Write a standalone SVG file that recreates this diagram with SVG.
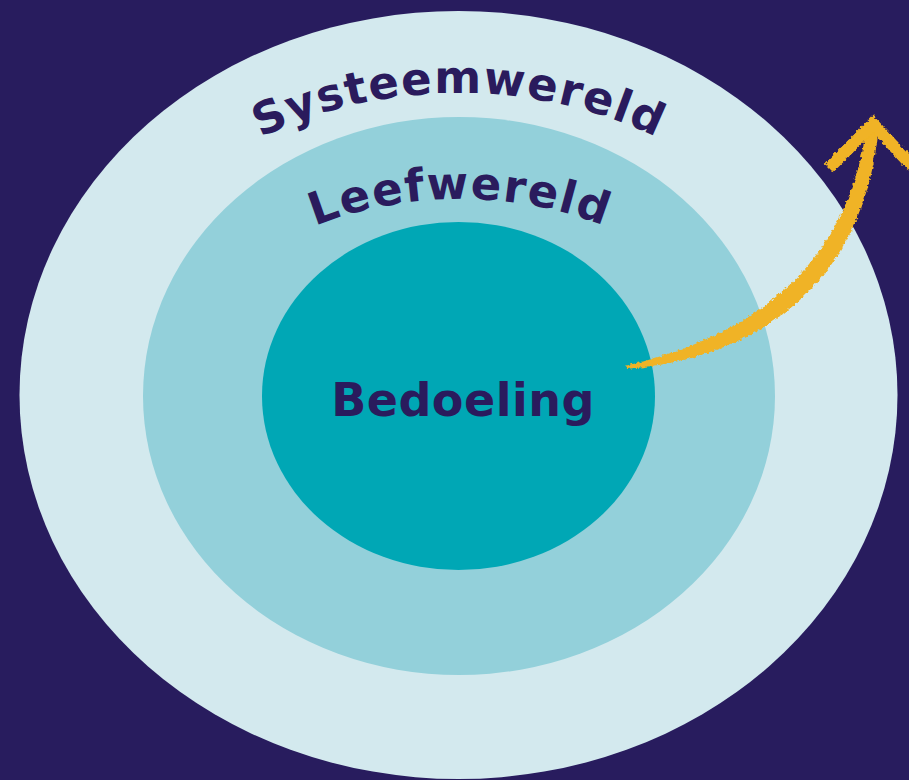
<svg xmlns="http://www.w3.org/2000/svg" xmlns:xlink="http://www.w3.org/1999/xlink" width="909" height="780" viewBox="0 0 909 780">
  <style>
    .lbl { font-family: "DejaVu Sans", "Liberation Sans", sans-serif; font-weight: bold; fill: #2a1b5d; }
    .arc { font-size: 45px; letter-spacing: 1.5px; }
    .brush { fill: #f0b325; }
    .brushline { fill: none; stroke: #f0b325; stroke-width: 12; stroke-linejoin: miter; stroke-linecap: butt; }
  </style>
  <defs>
    <path id="arcSys" d="M 79,397 A 380,304 0 0 1 839,397"/>
    <path id="arcLeef" d="M 172,398 A 288,199 0 0 1 748,398"/>
    <filter id="rough" x="-10%" y="-10%" width="120%" height="120%">
      <feTurbulence type="fractalNoise" baseFrequency="0.3" numOctaves="2" seed="4" result="n"/>
      <feDisplacementMap in="SourceGraphic" in2="n" scale="5" xChannelSelector="R" yChannelSelector="G"/>
    </filter>
  </defs>
  <rect x="0" y="0" width="909" height="780" fill="#281c5e"/>
  <g id="systeemwereld">
    <ellipse cx="458.5" cy="395" rx="439" ry="384" fill="#d3e9ee"/>
    <text class="lbl arc" text-anchor="middle"><textPath xlink:href="#arcSys" href="#arcSys" startOffset="50%">Systeemwereld</textPath></text>
  </g>
  <g id="leefwereld">
    <ellipse cx="459" cy="396" rx="316" ry="279" fill="#93d0da"/>
    <text class="lbl arc" text-anchor="middle"><textPath xlink:href="#arcLeef" href="#arcLeef" startOffset="50%">Leefwereld</textPath></text>
  </g>
  <g id="bedoeling">
    <ellipse cx="458.5" cy="396" rx="196.5" ry="174" fill="#00a7b5"/>
    <text class="lbl" x="463" y="416" font-size="46" letter-spacing="0.5" text-anchor="middle">Bedoeling</text>
  </g>
  <g id="connectors" filter="url(#rough)">
    <path class="brush" d="M 625,366 C 730,341 846,284 867,124 L 879,124 C 864,299 740,360 627,369 Z"/>
    <polyline class="brushline" points="829,168 873,124 912,166"/>
  </g>
</svg>
